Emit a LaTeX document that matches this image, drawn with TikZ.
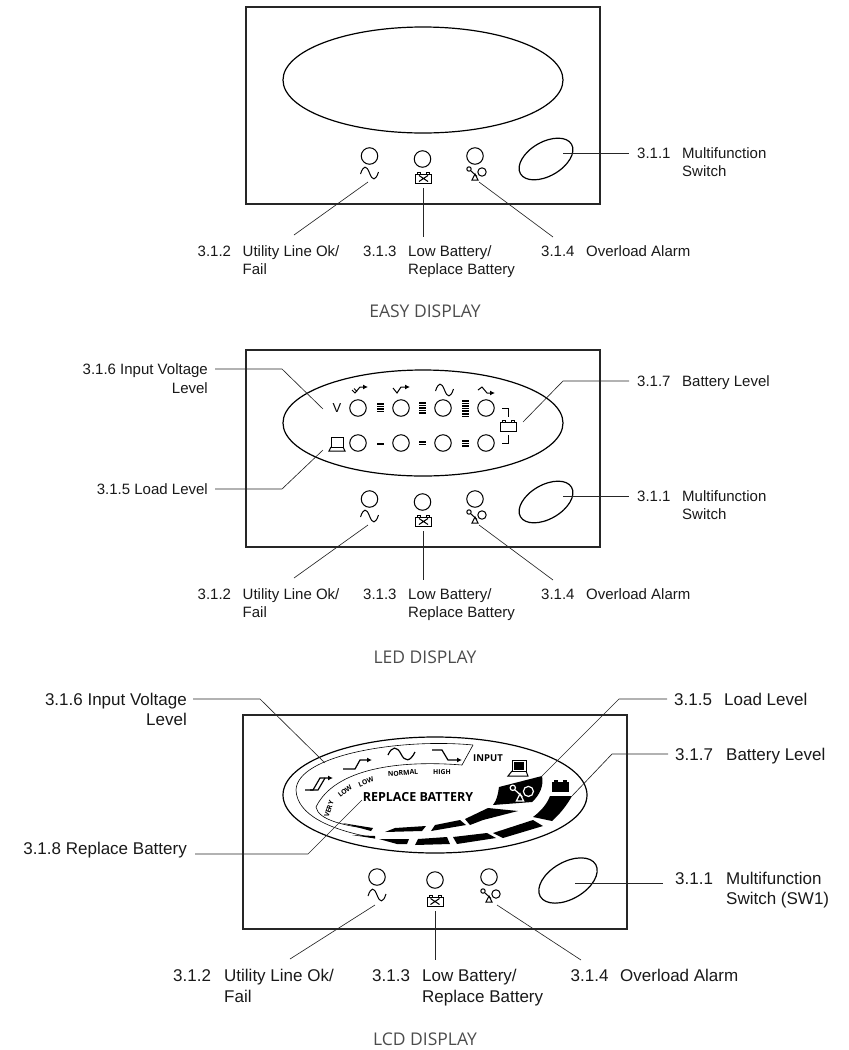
\documentclass[tikz,border=0pt]{standalone}
\usepackage{fontspec}
\setmainfont{Liberation Sans}
\newfontfamily\titlefont{Open Sans}
\usetikzlibrary{arrows.meta,shapes.geometric}

\tikzset{
    pics/sinewave/.style={code={
        \draw[icon] (-9,1) .. controls (-6,-8) and (-3,-8) .. (0,0) .. controls (3,8) and (6,8) .. (9,-1);
    }},
    pics/cell/.style={code={
        \draw[icon,#1] (-8,-4) rectangle (8,5);
        \draw[icon,#1] (-6,-4) -- (-6,-6) -- (-3,-6) -- (-3,-4);
        \draw[icon,#1] (3,-4) -- (3,-6) -- (6,-6) -- (6,-4);
    }},
    pics/seesaw/.style={code={
        \draw[icon,#1] (-6,-6) circle (2.2);
        \draw[icon,#1] (7,-3) circle (4.2);
        \draw[icon,#1] (-4.5,-4.5) -- (2,1.5);
        \draw[icon,#1] (0,-1) -- (-3,5) -- (3,5) -- cycle;
    }},
    pics/laptop/.style={code={
        \draw[icon] (-6,-7) rectangle (6,3);
        \draw[icon] (-6,3) -- (-8,7) -- (8,7) -- (6,3);
    }}
}

\begin{document}
\begin{tikzpicture}[
    x=1pt, y=-1pt,
    panelbox/.style={rectangle, draw=black!85, line width=1.4pt, inner sep=0pt},
    display/.style={ellipse, draw=black, line width=1.2pt, inner sep=0pt},
    led/.style={circle, draw=black, line width=1pt, minimum size=16.5pt, inner sep=0pt},
    icon/.style={line width=1pt},
    leader/.style={draw=black!85, line width=0.65pt},
    tick/.style={line width=1.2pt, -{Latex[length=5pt,width=5pt]}},
    small/.style={anchor=base west, inner sep=0pt, text=black!90, font=\fontsize{15}{18}\selectfont},
    smallr/.style={small, anchor=base east},
    big/.style={anchor=base west, inner sep=0pt, text=black!90, font=\fontsize{17}{20}\selectfont},
    bigr/.style={big, anchor=base east},
    caption/.style={inner sep=0pt, text=black!70, font=\titlefont\fontsize{17.5}{20}\selectfont},
    lcdtext/.style={inner sep=0pt, font=\titlefont\bfseries\fontsize{6.8}{9}\selectfont}
]
\useasboundingbox (0,0) rectangle (849,1050);

% the two smaller panels share their lower half
\foreach \n/\y in {easy/0,led/343}{
    \node[panelbox, minimum width=354pt, minimum height=197pt] (panel\n) at (423,105.5+\y) {};
    \node[display, minimum width=280pt, minimum height=106pt] (oval\n) at (423,80+\y) {};
    \node[led] (line\n) at (369.5,156+\y) {};
    \node[led] (batt\n) at (422.5,159+\y) {};
    \node[led] (load\n) at (475,156+\y) {};
    \pic at (369.5,173+\y) {sinewave};
    \pic at (423.5,178+\y) {cell={}};
    \draw[icon] (419,175.5+\y) -- (428,181.5+\y) (428,175.5+\y) -- (419,181.5+\y);
    \pic at (475,175+\y) {seesaw={}};
    \node[ellipse, draw=black, line width=1.2pt, inner sep=0pt, rotate=30, minimum width=59pt, minimum height=34pt] (switch\n) at (546,159+\y) {};

    \coordinate (a\n) at (563,153+\y);
    \coordinate (b\n) at (629,153+\y);
    \coordinate (c\n) at (368,182+\y);
    \coordinate (d\n) at (294,235+\y);
    \coordinate (e\n) at (423,188+\y);
    \coordinate (f\n) at (423,237+\y);
    \coordinate (g\n) at (479,182+\y);
    \coordinate (h\n) at (553,237+\y);
    \draw[leader] (a\n) -- (b\n);
    \draw[leader] (c\n) -- (d\n);
    \draw[leader] (e\n) -- (f\n);
    \draw[leader] (g\n) -- (h\n);

    \node[small] (n1\n) at (637,158+\y) {3.1.1};
    \node[small] (t1\n) at (682,158+\y) {Multifunction};
    \node[small] (u1\n) at (682,176+\y) {Switch};
    \node[small] (n2\n) at (197.5,256+\y) {3.1.2};
    \node[small] (t2\n) at (242.5,256+\y) {Utility Line Ok/};
    \node[small] (u2\n) at (242.5,274+\y) {Fail};
    \node[small] (n3\n) at (363,256+\y) {3.1.3};
    \node[small] (t3\n) at (408,256+\y) {Low Battery/};
    \node[small] (u3\n) at (408,274+\y) {Replace Battery};
    \node[small] (n4\n) at (541,256+\y) {3.1.4};
    \node[small] (t4\n) at (586,256+\y) {Overload Alarm};
}
\node[caption] (easytitle) at (425,311) {EASY DISPLAY};
\node[caption] (ledtitle) at (425,657) {LED DISPLAY};

% LED display
\node[inner sep=0pt, font=\fontsize{13}{15}\selectfont] (vlabel) at (337,408.5) {V};
\foreach \x [count=\i] in {358,401,443,486}{
    \node[led] (top\i) at (\x,408) {};
    \node[led] (low\i) at (\x,443) {};
}
\foreach \x/\y/\k in {380/403/4, 422/402/5, 465/400/7, 380/443/1, 422/441/2, 465/440/3}{
    \foreach \j in {1,...,\k}{
        \fill (\x-3.5,\y+2.6*\j-2.6) rectangle (\x+3.5,\y+2.6*\j-1);
    }
}
\draw[tick, line width=1pt] (352,390) -- (355,393) -- (360,387) -- (368,387);
\draw[icon] (354,388.5) -- (357,391.5);
\draw[tick, line width=1pt] (393,388) -- (397,393) -- (401,387) -- (410,387);
\pic at (444.5,390) {sinewave};
\draw[tick, line width=1pt] (478,390) -- (482,387) -- (487,393) -- (495,393);
\pic at (337,444) {laptop};
\pic at (508,426) {cell={}};
\draw[icon] (502,408) -- (508,408) -- (508,417);
\draw[icon] (508,435) -- (508,443) -- (502,443);

\node[smallr] (n6led) at (208,374) {3.1.6 Input Voltage};
\node[smallr] (u6led) at (208,393) {Level};
\node[smallr] (n5led) at (208,494.5) {3.1.5 Load Level};
\node[small] (n7led) at (637,386) {3.1.7};
\node[small] (t7led) at (682,386) {Battery Level};
\coordinate (p6a) at (215,369);
\coordinate (p6b) at (282,369);
\coordinate (p6c) at (323,409);
\coordinate (p5a) at (215,489);
\coordinate (p5b) at (282,489);
\coordinate (p5c) at (323,450);
\coordinate (p7a) at (629,381);
\coordinate (p7b) at (563,381);
\coordinate (p7c) at (523,422);
\draw[leader] (p6a) -- (p6b) -- (p6c);
\draw[leader] (p5a) -- (p5b) -- (p5c);
\draw[leader] (p7a) -- (p7b) -- (p7c);

% LCD display
\node[panelbox, minimum width=384pt, minimum height=214pt] (panellcd) at (435,822) {};
\node[display, minimum width=304pt, minimum height=116pt] (ovallcd) at (435,795) {};
\draw[line width=0.6pt] (473,745) .. controls (400,738) and (297,755) .. (296,790) .. controls (297,815) and (330,830) .. (375,838);
\draw[line width=0.6pt] (473,745) -- (462,765) .. controls (400,760) and (335,768) .. (316,807) .. controls (318,820) and (345,826) .. (372,829);

% bar segments
\fill (499,787) -- (542,776) .. controls (544,785) and (540,795) .. (532,802) -- (493,805) .. controls (497,800) and (498,794) .. (499,787) -- cycle;
\fill (550,796) -- (572,796) .. controls (567,805) and (560,814) .. (552,821) -- (533,817) .. controls (541,811) and (547,804) .. (550,796) -- cycle;
\fill (465,819) -- (488,808) -- (518,811) -- (483,820) -- (470,825) -- cycle;
\fill (431,831) -- (435,825) -- (460,820) -- (466,825) -- cycle;
\fill (385,832) -- (395,828) -- (426,826) -- (422,831) -- cycle;
\fill (342,823) -- (373,828) -- (371,831) -- cycle;
\fill (352,835) -- (375,836) -- (375,838.5) -- cycle;
\fill (379,839) -- (409,839) -- (407,844) -- (397,844) -- cycle;
\fill (418,839) -- (447,837) -- (450,844) -- (415,845) -- cycle;
\fill (453,837) -- (487,833) -- (496,838) -- (457,844) -- cycle;
\fill (493,833) -- (533,820) -- (543,826) -- (503,838) -- cycle;

\pic[scale=1.2] at (520,795) {seesaw={draw=white, line width=1.2pt}};
\pic[scale=1] at (560.5,786) {cell={fill=black}};
\fill (514,762) rectangle (524,770);
\draw[icon] (512,760) rectangle (526,771);
\draw[icon] (512,771) -- (508,776) -- (528,776) -- (526,771);

% input level marks
\draw[tick] (305,790) -- (313,790) -- (320,778) -- (333,778);
\draw[icon, line width=1.2pt] (310,790) -- (318,790) -- (325,778);
\draw[tick] (343,769) -- (355,769) -- (360,760) -- (372,760);
\draw[icon, line width=1.2pt] (388,755) .. controls (392,746) and (397,746) .. (401,754) .. controls (405,762) and (410,762) .. (415,752);
\draw[tick] (432,750) -- (442,750) -- (448,760) -- (462,760);

\node[lcdtext] (lcdvery) at (329,809) [rotate=72] {VERY};
\node[lcdtext] (lcdlow) at (345,791) [rotate=38] {LOW};
\node[lcdtext] (lcdlowb) at (366,782) [rotate=22] {LOW};
\node[lcdtext] (lcdnormal) at (403,773) [rotate=4] {NORMAL};
\node[lcdtext] (lcdhigh) at (442,772) {HIGH};
\node[lcdtext, font=\titlefont\bfseries\fontsize{9.5}{12}\selectfont] (lcdinput) at (488,758) {INPUT};
\node[lcdtext, font=\titlefont\bfseries\fontsize{12.5}{14}\selectfont] (lcdreplace) at (418,797) {REPLACE BATTERY};

\node[led] (linelcd) at (377,877) {};
\node[led] (battlcd) at (435,880) {};
\node[led] (loadlcd) at (489,877) {};
\pic at (377,895) {sinewave};
\pic at (435,901) {cell={}};
\draw[icon] (430.5,898.5) -- (439.5,904.5) (439.5,898.5) -- (430.5,904.5);
\pic at (489,897) {seesaw={}};
\node[ellipse, draw=black, line width=1.2pt, inner sep=0pt, rotate=30, minimum width=64pt, minimum height=37pt] (switchlcd) at (568,880.5) {};

\coordinate (q1a) at (575,883);
\coordinate (q1b) at (663,883);
\coordinate (q2a) at (375,905);
\coordinate (q2b) at (290,959);
\coordinate (q3a) at (435,911);
\coordinate (q3b) at (435,960);
\coordinate (q4a) at (497,905);
\coordinate (q4b) at (581,960);
\coordinate (q6a) at (193,699);
\coordinate (q6b) at (260,699);
\coordinate (q6c) at (325,763);
\coordinate (q8a) at (195,854);
\coordinate (q8b) at (308,854);
\coordinate (q8c) at (362,800);
\coordinate (q5a) at (667,699);
\coordinate (q5b) at (619,699);
\coordinate (q5c) at (541,777);
\coordinate (q7a) at (668,754);
\coordinate (q7b) at (612,754);
\coordinate (q7c) at (572,796);
\draw[leader] (q1a) -- (q1b);
\draw[leader] (q2a) -- (q2b);
\draw[leader] (q3a) -- (q3b);
\draw[leader] (q4a) -- (q4b);
\draw[leader] (q6a) -- (q6b) -- (q6c);
\draw[leader] (q8a) -- (q8b) -- (q8c);
\draw[leader] (q5a) -- (q5b) -- (q5c);
\draw[leader] (q7a) -- (q7b) -- (q7c);

\node[bigr] (n6lcd) at (187,705) {3.1.6 Input Voltage};
\node[bigr] (u6lcd) at (187,725) {Level};
\node[bigr] (n8lcd) at (187,854) {3.1.8 Replace Battery};
\node[big] (n5lcd) at (674,705) {3.1.5};
\node[big] (t5lcd) at (724,705) {Load Level};
\node[big] (n7lcd) at (675,760) {3.1.7};
\node[big] (t7lcd) at (726,760) {Battery Level};
\node[big] (n1lcd) at (675,884) {3.1.1};
\node[big] (t1lcd) at (726,884) {Multifunction};
\node[big] (u1lcd) at (726,904) {Switch (SW1)};
\node[big] (n2lcd) at (173,981) {3.1.2};
\node[big] (t2lcd) at (224,981) {Utility Line Ok/};
\node[big] (u2lcd) at (224,1002) {Fail};
\node[big] (n3lcd) at (372,981) {3.1.3};
\node[big] (t3lcd) at (422,981) {Low Battery/};
\node[big] (u3lcd) at (422,1002) {Replace Battery};
\node[big] (n4lcd) at (570.5,981) {3.1.4};
\node[big] (t4lcd) at (620,981) {Overload Alarm};
\node[caption] (lcdtitle) at (425,1039) {LCD DISPLAY};
\end{tikzpicture}
\end{document}
